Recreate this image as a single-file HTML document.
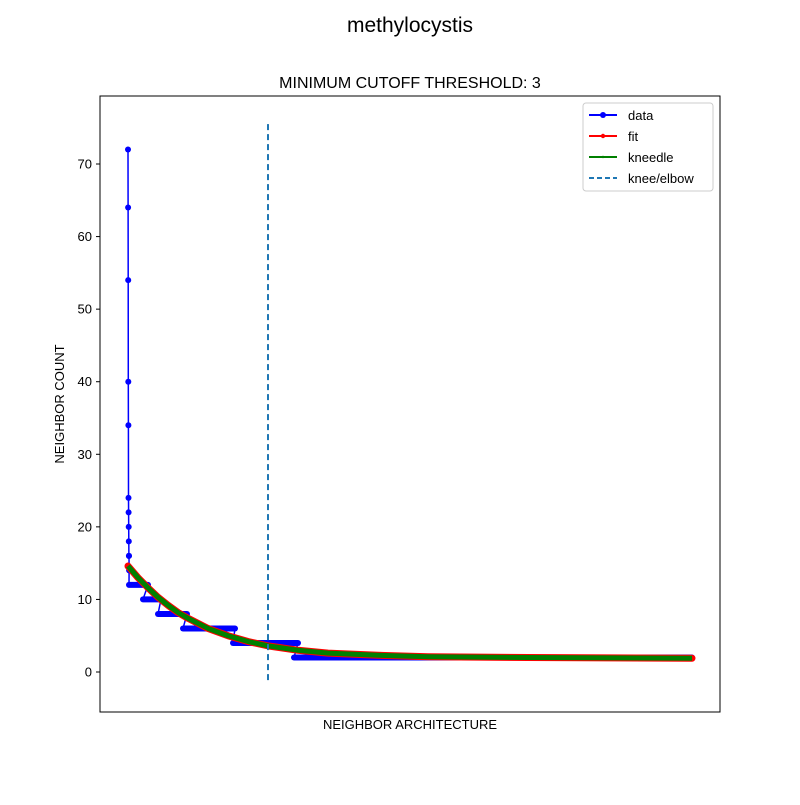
<!DOCTYPE html>
<html><head><meta charset="utf-8"><style>
body{margin:0;background:#fff;}
svg text{font-family:"Liberation Sans","DejaVu Sans",sans-serif;}
</style></head><body>
<svg id="chart" width="800" height="800" viewBox="0 0 800 800" xmlns="http://www.w3.org/2000/svg">
<rect width="800" height="800" fill="#fff"/>
<text x="410" y="32" font-size="21" text-anchor="middle">methylocystis</text>
<text x="410" y="88" font-size="16" text-anchor="middle">MINIMUM CUTOFF THRESHOLD: 3</text>
<g id="plot"></g>
<rect x="100" y="96" width="620" height="616" fill="none" stroke="#000" stroke-width="1"/>
<text x="410" y="729" font-size="13" text-anchor="middle">NEIGHBOR ARCHITECTURE</text>
<text transform="translate(64,404) rotate(-90)" font-size="13" text-anchor="middle">NEIGHBOR COUNT</text>
<g>
<rect x="583" y="103" width="130" height="88" rx="3" fill="#fff" stroke="#ccc"/>
<line x1="589" y1="115" x2="617" y2="115" stroke="#0000ff" stroke-width="2"/><circle cx="603" cy="115" r="3" fill="#0000ff"/>
<text x="628" y="120" font-size="13">data</text>
<line x1="589" y1="136" x2="617" y2="136" stroke="#ff0000" stroke-width="2"/><circle cx="603" cy="136" r="2.2" fill="#ff0000"/>
<text x="628" y="141" font-size="13">fit</text>
<line x1="589" y1="157" x2="617" y2="157" stroke="#008000" stroke-width="2"/><circle cx="603" cy="157" r="1.2" fill="#008000"/>
<text x="628" y="162" font-size="13">kneedle</text>
<line x1="589" y1="178" x2="617" y2="178" stroke="#1f77b4" stroke-width="2" stroke-dasharray="5,3"/>
<text x="628" y="183" font-size="13">knee/elbow</text>
</g>
</svg>
<script>
const yTicks=[0,10,20,30,40,50,60,70];
const spikeValues=[72,64,54,40,34,24,22,20,18,16,16,14];
const stepLevels=[12,10,8,6,4,2];
const stepStarts=[1,15,30,55,105,166];
const stepEnds=[20,33,59,107,170,564];
const fitX=[0,10,20,30,40,50,60,80,100,120,140,170,200,250,300,400,564];
const fitY=[14.6,13.0,11.6,10.3,9.2,8.2,7.4,6.0,5.0,4.2,3.6,3.0,2.6,2.3,2.1,2.0,1.9];
const kneeX=140;
const kneeYRange=[75.5,-1.6];

const NS="http://www.w3.org/2000/svg";
const plot=document.getElementById('plot');
const X=v=>128+v*(564/564);
const Y=v=>672-v*7.257;
function mk(tag,attrs){const e=document.createElementNS(NS,tag);for(const k in attrs)e.setAttribute(k,attrs[k]);plot.appendChild(e);return e;}

yTicks.forEach(t=>{
  const l=mk('line',{x1:96,x2:100,y1:Y(t),y2:Y(t),stroke:'#000'});
  
  
  const tx=mk('text',{x:92,y:Y(t)+4.5,'font-size':13,'text-anchor':'end'});
  tx.textContent=t;
  
  
});

// data series
let pts=[];
spikeValues.forEach((v,i)=>pts.push([i*0.1,v]));
stepLevels.forEach((v,i)=>{pts.push([stepStarts[i],v]);pts.push([stepEnds[i],v]);});
let d=pts.map((p,i)=>(i?'L':'M')+X(p[0])+','+Y(p[1])).join(' ');
const dl=mk('path',{d:d,fill:'none',stroke:'#0000ff','stroke-width':1.5});


stepLevels.forEach((v,i)=>{
  const r=mk('line',{x1:X(stepStarts[i]),x2:X(stepEnds[i]),y1:Y(v),y2:Y(v),stroke:'#0000ff','stroke-width':6,'stroke-linecap':'round'});
  
  
});
spikeValues.forEach((v,i)=>{
  const c=mk('circle',{cx:X(i*0.1),cy:Y(v),r:3,fill:'#0000ff'});
  
  
});

const fd=fitX.map((x,i)=>(i?'L':'M')+X(x)+','+Y(fitY[i])).join(' ');
const fl=mk('path',{d:fd,fill:'none',stroke:'#ff0000','stroke-width':7,'stroke-linecap':'round','stroke-linejoin':'round'});


const kl=mk('path',{d:fd,fill:'none',stroke:'#008000','stroke-width':5,'stroke-linejoin':'round'});



const kn=mk('line',{x1:X(kneeX),x2:X(kneeX),y1:Y(kneeYRange[0]),y2:Y(kneeYRange[1]),stroke:'#1f77b4','stroke-width':2,'stroke-dasharray':'6,4'});


</script>
</body></html>
